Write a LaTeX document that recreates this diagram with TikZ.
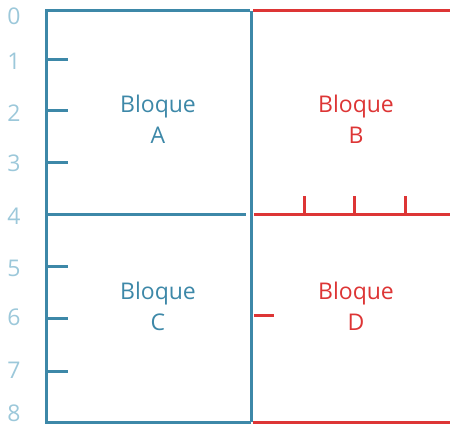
\documentclass[tikz,border=0pt]{standalone}
\usepackage{fontspec}
\setmainfont{Open Sans}
\definecolor{cblue}{HTML}{3D88A8}
\definecolor{cred}{HTML}{DD3535}
\definecolor{clight}{HTML}{9CC8DA}
\begin{document}
\begin{tikzpicture}[x=1pt,y=-1pt,
  bl/.style={draw=cblue,line width=3pt},
  rd/.style={draw=cred,line width=3pt},
  num/.style={text=clight,font=\fontsize{23}{23}\selectfont},
  lbl/.style={align=center,font=\fontsize{23}{31}\selectfont}]
\useasboundingbox (0,0) rectangle (450,428);
% blue block frame
\draw[bl] (250,11) -- (46,11) -- (46,422) -- (251,422);
\draw[bl] (251,11) -- (251,422);
\draw[bl] (46,214) -- (246,214);
% blue ticks
\foreach \yy in {60,110,162,266,318,371} \draw[bl] (46,\yy) -- (68,\yy);
% red lines
\draw[rd] (253,11) -- (450,11);
\draw[rd] (254,214) -- (450,214);
\draw[rd] (253,422) -- (450,422);
\foreach \xx in {304,354,405} \draw[rd] (\xx,196) -- (\xx,214);
\draw[rd] (254,315) -- (274,315);
% numbers
\node[num] (n0) at (14,16) {0};
\node[num] (n1) at (14,61) {1};
\node[num] (n2) at (14,113) {2};
\node[num] (n3) at (14,163) {3};
\node[num] (n4) at (14,216) {4};
\node[num] (n5) at (14,268) {5};
\node[num] (n6) at (14,317) {6};
\node[num] (n7) at (14,370) {7};
\node[num] (n8) at (14,413) {8};
% labels
\node[lbl,text=cblue] (A) at (158,119) {Bloque\\A};
\node[lbl,text=cred] (B) at (356,119) {Bloque\\B};
\node[lbl,text=cblue] (C) at (158,306) {Bloque\\C};
\node[lbl,text=cred] (D) at (356,306) {Bloque\\D};
\end{tikzpicture}
\end{document}
